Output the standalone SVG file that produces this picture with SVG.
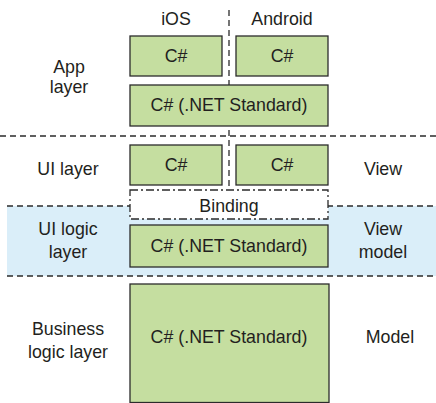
<svg xmlns="http://www.w3.org/2000/svg" width="436" height="403" viewBox="0 0 436 403">
<style>
.box{fill:#c5dea0;stroke:#2b2b2b;stroke-width:1.3}
.t{font-family:"Liberation Sans",Arial,sans-serif;font-size:17.8px;fill:#231f20;text-anchor:middle}
.dash{stroke:#2b2b2b;stroke-width:1.3;stroke-dasharray:6,4;fill:none}
.dd{fill:#ffffff;stroke:#2b2b2b;stroke-width:1.3;stroke-dasharray:8,3,2,3}
</style>
<rect width="436" height="403" fill="#ffffff"/>
<g id="bands">
<rect x="7" y="206" width="429" height="70" fill="#daeef9"/>
</g>
<g id="connectors">
<line class="dash" x1="0" y1="136" x2="436" y2="136"/>
<line class="dash" x1="7" y1="206" x2="436" y2="206"/>
<line class="dash" x1="7" y1="276" x2="436" y2="276"/>
<line class="dash" x1="229" y1="10" x2="229" y2="189"/>
</g>
<g id="labels">
<text class="t" x="176" y="25">iOS</text>
<text class="t" x="282" y="25">Android</text>
<text class="t" x="69" y="73">App</text>
<text class="t" x="69" y="93">layer</text>
<text class="t" x="68" y="175">UI layer</text>
<text class="t" x="383" y="175">View</text>
<text class="t" x="68" y="235">UI logic</text>
<text class="t" x="68" y="258">layer</text>
<text class="t" x="383" y="235">View</text>
<text class="t" x="383" y="258">model</text>
<text class="t" x="68" y="335">Business</text>
<text class="t" x="68" y="358">logic layer</text>
<text class="t" x="390" y="343">Model</text>
</g>
<g id="ios-app"><rect class="box" x="130" y="36" width="92" height="40"/><text class="t" x="176" y="62">C#</text></g>
<g id="android-app"><rect class="box" x="236" y="36" width="92" height="40"/><text class="t" x="282" y="62">C#</text></g>
<g id="app-shared"><rect class="box" x="130" y="85" width="198" height="41"/><text class="t" x="229" y="111">C# (.NET Standard)</text></g>
<g id="ios-ui"><rect class="box" x="130" y="145" width="92" height="40"/><text class="t" x="176" y="171">C#</text></g>
<g id="android-ui"><rect class="box" x="236" y="145" width="92" height="40"/><text class="t" x="282" y="171">C#</text></g>
<g id="binding"><rect class="dd" x="130" y="190" width="198" height="29"/><text class="t" x="229" y="212">Binding</text></g>
<g id="ui-logic"><rect class="box" x="130" y="225" width="198" height="42"/><text class="t" x="229" y="252">C# (.NET Standard)</text></g>
<g id="business"><rect class="box" x="130" y="284" width="199" height="118.5"/><text class="t" x="229" y="343">C# (.NET Standard)</text></g>
</svg>
